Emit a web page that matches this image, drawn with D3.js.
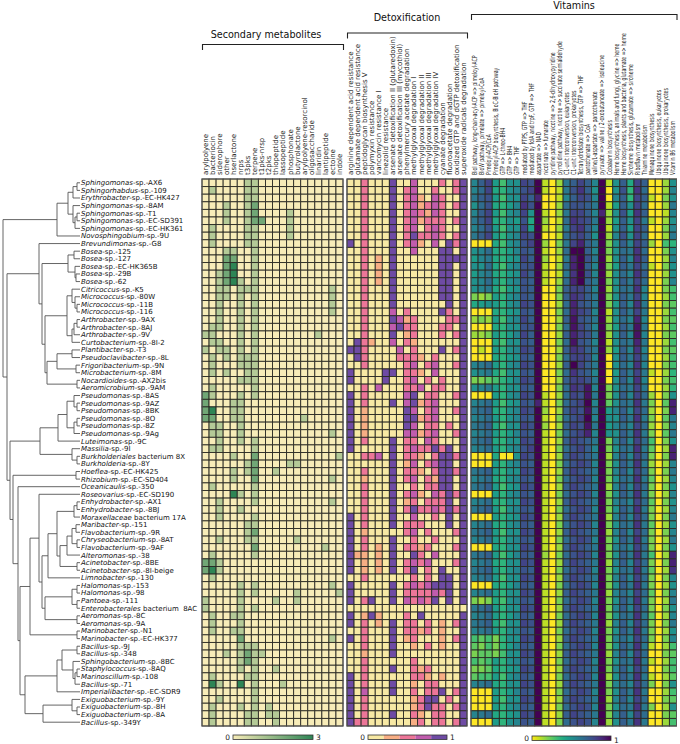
<!DOCTYPE html>
<html><head><meta charset="utf-8">
<script src="https://cdn.jsdelivr.net/npm/d3@7"></script>
<style>body{margin:0;background:#fff}svg{display:block}text{font-family:"DejaVu Sans",sans-serif}</style>
</head><body><svg id="c" width="680" height="744"></svg>
<script>
const rowLabels = ["Sphingomonas-sp.-AX6","Sphingorhabdus-sp.-109","Erythrobacter-sp.-EC-HK427","Sphingomonas-sp.-8AM","Sphingomonas-sp.-T1","Sphingomonas-sp.-EC-SD391","Sphingomonas-sp.-EC-HK361","Novosphingobium-sp.-9U","Brevundimonas-sp.-G8","Bosea-sp.-125","Bosea-sp.-127","Bosea-sp.-EC-HK365B","Bosea-sp.-29B","Bosea-sp.-62","Citricoccus-sp.-K5","Micrococcus-sp.-80W","Micrococcus-sp.-11B","Micrococcus-sp.-116","Arthrobacter-sp.-9AX","Arthrobacter-sp.-8AJ","Arthrobacter-sp.-9V","Curtobacterium-sp.-8I-2","Plantibacter-sp.-T3","Pseudoclavibacter-sp.-8L","Frigoribacterium-sp.-9N","Microbacterium-sp.-8M","Nocardioides-sp.-AX2bis","Aeromicrobium-sp.-9AM","Pseudomonas-sp.-8AS","Pseudomonas-sp.-9AZ","Pseudomonas-sp.-8BK","Pseudomonas-sp.-8O","Pseudomonas-sp.-8Z","Pseudomonas-sp.-9Ag","Luteimonas-sp.-9C","Massilia-sp.-9I","Burkholderiales bacterium 8X","Burkholderia-sp.-8Y","Hoeflea-sp.-EC-HK425","Rhizobium-sp.-EC-SD404","Oceanicaulis-sp.-350","Roseovarius-sp.-EC-SD190","Enhydrobacter-sp.-AX1","Enhydrobacter-sp.-8BJ","Moraxellaceae bacterium 17A","Maribacter-sp.-151","Flavobacterium-sp.-9R","Chryseobacterium-sp.-8AT","Flavobacterium-sp.-9AF","Alteromonas-sp.-38","Acinetobacter-sp.-8BE","Acinetobacter-sp.-8I-beige","Limnobacter-sp.-130","Halomonas-sp.-153","Halomonas-sp.-98","Pantoea-sp.-111","Enterobacterales bacterium  8AC","Aeromonas-sp.-8C","Aeromonas-sp.-9A","Marinobacter-sp.-N1","Marinobacter-sp.-EC-HK377","Bacillus-sp.-9J","Bacillus-sp.-348","Sphingobacterium-sp.-8BC","Staphylococcus-sp.-8AQ","Marinoscillum-sp.-108","Bacillus-sp.-71","Imperialibacter-sp.-EC-SDR9","Exiguobacterium-sp.-9Y","Exiguobacterium-sp.-8H","Exiguobacterium-sp.-8A","Bacillus-sp.-349Y"];

const secCategories = ["arylpolyene","bacteriocin","siderophore","other","hserlactone","nrps","t3pks","terpene","t1pks-nrsp","t2pks","thiopeptide","lassopeptide","phosphonate","butyrolactone","arylpolyene-resorcinol","oligosaccharide","linaridin","lantipeptide","ectoine","indole"];
const detoxCategories = ["arginine dependent acid resistance","glutamate dependent acid resistance","peptidoglycan biosynthesis V","polymyxin resistance","vancomycin resistance I","linezolid resistance","arsenate detoxification II (glutaredoxin)","arsenate detoxification III (mycothiol)","phenylmercury acetate degradation","methylglyoxal degradation I","methylglyoxal degradation II","methylglyoxal degradation III","methylglyoxal degradation IV","cyanate degradation","fluoroacetate degradation","oxidized GTP and dGTP detoxification","superoxide radicals degradation"];
const vitCategories = ["BioI pathway, long-chain-acyl-ACP => pimeloyl-ACP","BioW pathway, pimelate => pimeloyl-CoA","Pimeloyl-ACP/CoA","Pimeloyl-ACP biosynthesis, BioC-BioH pathway","GTP => L-threo-BH4","GTP => BH4","GTP => THF","mediated by PTPS, GTP => THF","mediated by folA and trpF, GTP => THF","aspartate => NAD","nicotinate => fumarate","pyridine pathway, nicotine => 2,6-dihydroxypyridine","pyrrolidine pathway, nicotine => succinate semialdehyde","C1-unit interconversion, eukaryotes","C1-unit interconversion, prokaryotes","Tetrahydrofolate biosynthesis, GTP => THF","pantothenate => CoA","valine/L-aspartate => pantothenate","pyruvate => valine / 2-oxobutanoate => isoleucine","Cobalamin biosynthesis","Heme biosynthesis, animals and fungi, glycine => heme","Heme biosynthesis, plants and bacteria, glutamate => heme","Siroheme biosynthesis, glutamate => siroheme","Riboflavin metabolism","Thiamine metabolism","Menaquinone biosynthesis","Ubiquinone biosynthesis, eukaryotes","Ubiquinone biosynthesis, prokaryotes","Vitamin B6 metabolism"];

const secValues = [
[0,0,0,0,0,0,1,1,0,0,0,0,0,0,0,0,0,0,0,0],[0,1,0,0,0,0,1,1,0,0,0,0,0,0,0,0,0,0,0,0],[0,0,0,0,0,0,1,1,0,0,0,0,0,0,0,0,0,0,0,0],
[0,0,0,1,0,0,1,2,0,0,0,0,0,0,0,0,0,0,0,0],[0,0,0,1,0,0,1,2,0,0,0,0,1,0,0,0,0,0,0,0],[0,0,0,1,0,0,1,2,2,0,0,0,1,0,0,0,0,0,0,0],
[0,1,0,0,0,0,1,1,0,0,0,0,1,0,0,0,0,0,0,0],[0,1,0,0,0,0,1,1,0,0,0,0,1,0,0,0,0,0,0,0],[0,1,0,0,0,0,1,1,0,0,0,0,0,0,0,0,0,0,0,0],
[0,0,0,1,1,0,0,1,0,0,0,0,0,0,0,0,0,0,0,0],[0,0,0,2,2,0,0,1,0,0,0,0,0,0,0,0,0,0,0,0],[0,0,0,2,3,0,0,1,0,0,0,0,0,0,0,0,0,0,0,0],
[0,0,1,2,3,0,0,1,0,0,0,0,0,0,0,0,0,0,0,0],[0,0,1,2,3,1,0,1,0,0,0,0,0,0,0,0,0,0,0,0],[0,0,1,1,0,1,1,1,0,0,0,0,0,0,0,0,0,0,1,0],
[0,0,1,1,0,1,0,1,0,0,0,0,0,0,0,0,0,0,1,0],[0,0,1,0,0,1,0,1,0,0,0,0,0,0,0,0,0,0,1,0],[0,0,1,0,0,1,0,1,0,0,0,0,0,0,0,0,0,0,1,0],
[0,0,1,0,0,1,0,1,0,0,0,0,0,0,0,0,0,0,0,0],[0,1,1,0,0,1,0,1,0,0,0,0,0,0,0,0,0,0,0,0],[1,1,0,0,0,1,0,1,0,0,0,0,0,0,0,0,1,0,0,0],
[0,1,1,0,0,1,0,1,0,0,0,0,0,0,0,0,0,0,0,0],[1,0,1,1,0,1,0,1,0,0,0,0,0,0,0,0,0,0,0,0],[0,1,0,1,0,1,1,1,0,0,0,0,0,0,0,0,0,0,0,0],
[0,1,0,0,0,1,1,1,0,0,0,0,0,0,0,0,0,0,0,0],[0,1,0,1,0,0,1,1,0,0,0,0,0,0,0,0,0,0,0,0],[0,0,0,0,0,1,1,1,0,0,0,0,0,0,0,0,0,0,0,0],
[0,1,0,0,0,0,0,1,0,0,0,0,0,0,0,0,0,0,0,0],[2,1,0,0,0,1,0,1,0,0,0,0,0,0,0,0,0,0,0,0],[2,0,0,0,1,1,0,0,0,0,0,0,0,0,0,0,0,0,0,0],
[2,3,0,0,1,1,0,0,0,0,0,0,0,0,0,0,0,0,0,0],[2,2,0,0,1,1,0,0,0,0,0,0,0,0,1,0,0,0,0,0],[0,1,1,0,0,1,0,0,0,0,0,0,0,0,0,0,0,0,0,0],
[0,1,1,0,0,1,0,0,0,0,0,0,0,0,0,0,0,0,1,0],[0,0,1,0,0,1,0,1,0,0,0,0,0,0,0,0,0,0,0,0],[0,1,1,0,0,0,0,1,0,0,0,0,0,0,0,0,0,0,0,0],
[0,0,0,0,1,0,0,2,0,0,0,0,0,0,0,0,0,0,0,1],[0,0,0,0,0,0,1,2,0,0,0,0,1,1,0,0,0,0,0,0],[0,0,0,0,1,0,1,2,0,0,1,0,0,0,0,0,0,0,0,0],
[0,0,0,0,1,0,0,2,0,0,0,0,0,0,0,0,0,0,1,0],[0,1,0,0,0,0,0,1,0,0,0,0,0,0,0,0,0,0,0,0],[0,0,0,0,3,1,0,1,0,0,0,0,0,0,0,0,0,0,0,0],
[0,0,1,0,0,0,0,1,0,0,0,0,0,0,0,0,0,0,1,0],[0,0,1,0,0,1,0,0,0,0,0,0,0,0,0,0,0,0,0,0],[0,0,1,0,0,0,0,1,0,0,0,0,0,0,0,0,0,0,0,0],
[0,0,0,0,0,0,1,1,0,0,0,0,0,0,0,0,0,0,0,0],[0,0,0,0,0,0,1,2,0,0,0,0,0,0,0,0,0,0,0,0],[0,0,1,0,0,0,1,1,0,0,0,0,0,1,0,0,0,0,0,0],
[0,0,0,0,0,0,0,2,0,0,0,0,0,0,0,0,0,1,0,0],[0,1,0,0,0,0,0,1,0,0,0,0,0,0,0,0,0,0,0,0],[2,2,1,0,0,0,0,0,0,0,0,0,0,0,0,0,0,0,0,0],
[2,3,1,0,0,0,0,0,0,0,0,0,0,0,0,0,0,0,0,0],[0,1,0,0,0,0,0,0,0,0,0,0,0,0,0,0,0,0,0,0],[0,0,0,0,0,1,0,1,0,0,0,0,0,0,0,0,0,0,1,0],
[0,0,0,0,0,1,0,1,0,0,0,0,0,1,0,0,0,0,0,1],[1,0,0,0,0,1,0,0,0,0,1,0,0,1,0,0,0,0,0,0],[1,0,0,0,0,1,0,1,0,0,0,0,0,0,0,0,0,0,0,0],
[0,1,0,0,1,1,0,0,0,0,0,0,0,0,0,0,0,0,0,0],[0,1,0,0,0,1,0,0,0,0,0,0,0,0,0,0,0,0,0,0],[0,1,0,0,1,1,0,0,0,0,0,0,0,0,0,0,0,0,0,0],
[0,0,0,0,0,2,0,0,0,0,0,0,0,0,0,0,0,0,1,0],[0,0,0,0,0,1,1,1,0,0,0,0,0,0,0,0,0,0,0,0],[0,0,0,1,0,1,2,1,1,0,0,0,0,0,0,0,0,0,0,0],
[0,0,0,0,0,1,2,1,0,0,0,0,0,0,0,0,0,0,0,0],[0,0,0,0,0,1,0,1,0,0,1,0,0,0,0,0,0,0,0,0],[0,1,0,0,0,0,1,1,0,0,0,0,0,0,0,0,0,0,0,0],
[0,3,1,0,0,3,0,1,0,0,0,1,0,0,0,0,0,0,0,0],[0,0,0,0,0,0,0,1,0,0,0,0,0,0,0,0,0,0,0,0],[0,0,1,0,0,0,0,1,0,0,0,0,0,0,0,0,0,0,0,0],
[0,1,0,0,0,1,0,1,0,1,0,0,0,0,0,0,0,0,0,0],[0,1,0,0,0,0,1,1,0,1,1,0,0,0,0,0,0,0,0,0],[0,1,0,0,0,0,1,1,0,0,1,0,0,0,0,0,0,0,0,0]
];

const detoxValues = [
[0,0,.5,0,0,0,1,0,0,.75,0,0,0,.5,0,.5,1],[0,0,.5,0,0,0,1,0,.5,.75,0,0,.5,0,0,.5,1],[0,0,.5,0,0,0,1,0,.5,.75,.25,0,.75,.5,0,0,1],
[0,0,.5,0,0,0,1,0,.5,.75,.25,.5,.75,.5,0,.5,1],[0,0,.5,0,0,0,1,0,.5,.75,.5,.25,.75,.5,0,0,1],[0,0,.5,0,0,0,1,0,.5,.75,.25,.5,.5,.5,0,.5,1],
[0,0,.5,0,0,0,1,0,.5,.75,0,.5,.75,.5,0,0,1],[0,0,.5,0,0,0,1,0,.5,1,.5,.5,.75,.5,0,.5,1],[1,0,.5,0,0,0,1,0,.5,.75,.25,0,.75,0,1,.5,1],
[0,0,.5,0,0,0,1,0,0,.75,0,0,0,1,1,0,1],[0,0,.5,0,.25,0,1,0,0,0,0,0,0,1,1,1,1],[0,0,.5,0,.25,0,1,0,0,0,0,0,0,1,1,0,1],
[0,0,.5,0,.25,0,1,0,0,0,0,0,0,1,1,0,1],[0,0,.5,0,.25,0,1,0,0,0,0,0,0,1,1,0,1],[0,0,.5,0,0,0,1,0,0,0,0,0,0,1,1,0,1],
[0,0,.5,0,0,0,1,0,0,0,0,0,0,1,1,0,1],[0,0,.5,0,0,0,1,0,0,0,0,0,0,0,1,0,1],[0,0,.5,0,0,0,.75,0,.5,0,0,0,0,1,.5,0,1],
[0,0,.5,0,0,0,1,.75,.25,.5,0,0,0,0,.5,.5,1],[0,0,.5,0,0,0,.75,1,.5,.5,0,0,0,.5,.5,0,1],[0,0,.5,0,0,0,1,0,.25,.5,0,0,0,.5,0,.5,1],
[0,1,.5,.25,0,0,.75,0,.5,.25,0,0,0,0,0,0,1],[1,1,.5,0,0,0,0,.75,0,.5,0,0,0,1,0,.5,1],[0,1,.5,0,0,0,0,.5,.5,.5,.25,0,.5,0,0,0,1],
[0,0,.5,0,0,0,0,0,.5,.75,0,.5,.75,0,0,.5,1],[1,0,0,0,0,1,1,0,.5,.5,.25,0,.75,0,0,0,1],[1,0,0,0,0,1,0,0,.5,.75,0,.5,0,.5,0,0,1],
[0,0,.5,0,.75,0,0,0,.5,.5,.75,0,.5,.5,0,0,1],[1,0,.5,0,0,0,0,0,.75,1,0,.5,.5,0,0,.5,1],[1,0,.5,0,0,0,1,0,.75,1,.25,.5,.75,0,0,0,1],
[1,0,.25,0,0,0,0,0,1,.75,0,.5,.75,0,0,.5,1],[1,0,.25,0,0,0,0,0,1,1,.25,.5,.75,0,0,0,1],[1,0,.25,0,0,0,0,0,1,.75,0,.5,.5,0,.5,0,1],
[1,0,.25,0,0,0,0,0,.75,.75,.25,.5,.75,0,0,.5,1],[1,0,.5,0,0,0,1,0,.5,.5,0,.75,.5,0,0,0,1],[1,0,0,0,0,0,1,0,.5,.75,.5,.5,1,.5,1,0,1],
[0,0,.5,.5,.75,0,1,0,.5,.5,.25,0,.5,1,1,.5,1],[0,0,0,0,0,0,1,0,.25,.75,0,.5,.75,1,1,0,1],[0,0,.5,0,0,0,1,0,.5,.5,.25,0,.5,1,1,.5,1],
[0,0,.25,0,0,0,1,0,.5,.75,0,.5,.25,1,1,0,1],[0,0,.5,0,0,0,1,0,0,.5,0,.5,.5,1,1,0,1],[0,0,.5,0,0,0,1,0,.5,.75,.25,0,.75,.5,1,.5,1],
[0,0,.5,0,0,0,1,0,.25,.5,0,.5,.5,.5,1,0,1],[0,0,.5,0,0,0,1,0,.5,1,.5,.5,.75,.5,1,.5,1],[1,0,.5,0,0,0,1,0,0,.75,0,0,.5,0,1,0,1],
[1,0,.5,0,0,0,1,0,.5,.5,.5,0,0,0,1,0,1],[1,0,.25,0,0,0,0,0,.5,.75,0,.5,0,0,0,.5,1],[1,0,.5,0,0,0,1,0,0,.5,0,0,.5,0,0,0,1],
[1,0,.5,0,.25,0,1,0,.5,.5,.25,.5,0,0,0,.5,1],[1,.25,.25,0,.25,0,1,0,0,1,.5,0,.75,0,0,0,1],[1,0,.25,0,.25,0,1,0,.5,.75,.5,.75,0,0,0,.5,1],
[1,0,.25,0,.25,0,1,0,.5,1,0,.5,0,1,0,0,1],[0,0,.5,0,0,0,0,0,0,.5,0,.5,0,1,1,0,1],[1,0,0,0,0,0,1,0,.5,.75,.5,.75,1,1,1,0,1],
[1,0,0,0,0,0,1,0,.5,.5,.5,.5,.75,.5,1,0,1],[1,0,.5,1,0,0,1,0,.75,.5,.75,.5,1,0,1,0,1],[0,0,0,0,0,0,0,0,0,0,0,0,0,0,0,0,0],
[1,0,.25,1,.25,0,0,0,.5,0,1,0,0,0,0,0,1],[1,0,.5,0,.25,0,1,0,.5,.5,0,.5,0,.25,0,.5,1],[0,0,.5,0,0,0,1,0,.5,.5,.25,.5,0,.25,0,0,1],
[1,0,.5,0,0,0,1,0,.25,.5,0,0,0,.25,0,.5,1],[0,0,.5,0,0,0,1,0,0,.25,0,.5,0,.25,0,0,1],[0,0,.25,0,0,0,1,0,0,0,0,0,0,0,0,0,1],
[0,0,.5,0,0,0,0,0,0,.5,0,0,0,0,0,0,1],[0,0,.5,0,0,0,1,0,0,.5,.25,.5,0,0,0,0,1],[1,0,.5,0,0,0,0,0,0,.5,.5,.25,0,.25,0,0,1],
[1,0,.5,0,0,0,1,0,0,.25,0,.5,.5,0,0,0,1],[1,0,.75,0,0,0,1,0,0,.5,0,.5,.5,1,0,.5,1],[1,0,.5,0,0,0,0,0,0,.25,.5,1,1,0,.5,0,1],
[1,0,.5,0,0,0,0,0,0,.25,.5,1,.5,.5,0,.5,1],[1,0,.5,0,0,0,1,0,0,.5,.25,0,.5,.5,0,0,1],[1,.5,.5,0,0,0,0,0,0,.25,.5,0,.5,.5,0,.5,1]
];

const vitValues = [
[.55,.7,.8,.45,.3,.5,.5,.8,.75,1,.1,0,.15,.6,.7,.8,.7,.55,1,.1,.5,.7,.4,.8,.7,0,0,.15,.5],
[.55,.65,.8,.4,.35,.5,.55,.75,.8,1,.1,0,.1,.6,.75,.85,.7,.5,1,0,.5,.75,.35,.85,.65,0,0,.15,.55],
[.6,.7,.75,.45,.3,.5,.5,.8,.7,.9,0,0,.1,.55,.7,.8,.75,.55,1,0,.55,.7,.35,.8,.7,.1,0,.2,.5],
[.5,.65,.75,.4,.35,.45,.55,.85,.75,1,0,0,.15,.65,.75,.75,.7,.6,1,.1,.45,.7,.5,.8,.65,0,0,.15,.6],
[.55,.7,.8,.45,.3,.5,.55,.8,.5,1,.1,0,.15,.6,.8,.8,.7,.55,.9,.15,.5,.75,.45,.85,.7,0,0,.1,.55],
[.6,.7,.8,.4,.35,.5,.45,.75,.4,1,.15,0,.1,.65,.85,.8,.75,.6,1,.15,.45,.7,.5,.8,.6,.1,0,.15,.5],
[.55,.65,.75,.45,.3,.5,.5,.8,.45,1,.1,0,.15,.6,.8,.85,.7,.55,1,.1,.5,.7,.45,.8,.7,0,0,.2,.55],
[.6,.7,.8,.45,.35,.5,.55,.8,.75,1,0,0,.1,.65,.75,.8,.7,.5,1,.15,.55,.75,.5,.8,.65,0,0,.15,.6],
[0,0,0,.4,.3,.5,.55,.75,.8,1,.15,0,.2,.6,.8,.9,.7,.6,1,.2,.5,.7,.55,.8,.7,.15,0,.3,.35],
[.5,.55,.65,.4,.35,.45,.55,.75,.7,1,.1,0,.15,.65,1,1,.7,.55,1,.2,.5,.65,.6,.85,.65,0,0,.2,.5],
[.45,.55,.6,.4,.35,.45,.5,.8,.7,1,.15,0,.1,.6,.9,1,.75,.6,1,.15,.5,.7,.55,.85,.7,0,0,.15,.55],
[.5,.5,.65,.4,.3,.5,.55,.75,.75,1,.1,0,.15,.65,.9,1,.7,.55,1,.2,.45,.7,.6,.8,.65,.1,0,.2,.5],
[.45,.55,.6,.4,.35,.45,.5,.8,.7,1,.1,0,.1,.6,.85,1,.75,.55,1,.15,.5,.65,.55,.85,.7,0,0,.15,.5],
[.5,.55,.65,.45,.35,.5,.55,.75,.7,1,.1,0,.15,.65,.9,1,.7,.6,1,.2,.5,.7,.6,.8,.65,0,0,.2,.55],
[.5,.55,.6,.4,.3,.45,.5,.75,.7,1,0,0,.2,.7,.8,.8,.7,.55,1,.15,.5,.65,.6,.85,.55,0,0,.2,.3],
[.2,.15,.2,.45,.35,.5,.55,.75,.7,1,0,0,.2,.7,.85,.8,.7,.6,1,.2,.5,.7,.6,.8,.55,0,0,.15,.3],
[.4,.45,.5,.45,.35,.5,.55,.8,.75,1,0,0,.15,.65,.9,.75,.7,.6,1,.2,.45,.7,.55,.85,.6,0,0,.2,.25],
[0,0,0,.4,.35,.45,.5,.75,.7,1,0,0,.2,.65,.9,.8,.75,.55,1,.1,.5,.7,.6,.8,.6,0,0,.15,.3],
[.15,.2,.15,.45,.3,.5,.55,.8,.7,1,0,0,.15,.7,.95,.75,.7,.6,1,.15,.5,.65,.55,.9,.55,0,0,.2,.25],
[0,0,0,.4,.35,.5,.5,.75,.75,1,0,0,.2,.65,.95,.8,.7,.55,1,.2,.45,.7,.6,.95,.6,0,0,.15,.3],
[.15,.15,.2,.45,.35,.45,.55,.8,.7,1,0,0,.15,.7,.9,.8,.75,.6,1,.15,.5,.7,.55,.95,.55,0,0,.2,.25],
[0,0,0,.4,.3,.5,.5,.75,.7,1,0,0,.2,.65,.95,.75,.7,.55,1,.1,.5,.65,.6,.9,.6,0,0,.15,.3],
[0,.1,0,.45,.35,.5,.55,.8,.75,1,0,0,.15,.7,.85,.8,.7,.6,1,.15,.45,.7,.55,.85,.55,0,0,.2,.25],
[0,0,0,.4,.35,.45,.5,.75,.7,1,0,0,.2,.65,.8,.8,.75,.55,1,0,.5,.7,.6,.8,.6,0,0,.15,.3],
[.55,.6,.65,.45,.35,.5,.55,.8,.75,1,0,0,.15,.7,1,.8,.7,.6,1,0,.5,.65,.55,.85,.55,0,0,.2,.3],
[.5,.55,.6,.4,.3,.5,.5,.75,.7,1,0,0,.2,.65,.85,.75,.7,.55,1,0,.45,.7,.6,.8,.6,.1,0,.15,.35],
[.2,.2,.25,.3,.35,.45,.55,.8,.75,1,0,0,.15,.7,.8,.8,.75,.6,1,0,.5,.7,.55,.85,.55,0,0,.2,.3],
[.5,.55,.6,.45,.35,.5,.5,.75,.7,1,0,0,.2,.65,.85,.8,.95,.55,1,.2,.5,.65,.6,.8,.6,0,0,.15,.35],
[0,0,0,.45,.35,.5,.55,.8,.75,1,.1,0,.15,.65,.8,.75,.95,.6,1,.2,.5,.7,.55,.8,.65,.15,0,.2,.5],
[.55,.6,.65,.45,.3,.45,.5,.75,.7,.9,.1,0,.2,.65,.75,.8,1,.55,1,.25,.5,.65,.6,.85,.6,.2,0,.25,.9],
[.6,.65,.7,.4,.35,.5,.55,.8,.75,1,.15,0,.15,.7,.8,.75,.95,.6,1,.45,.55,.7,.55,.8,.65,.15,0,.2,.9],
[.55,.6,.65,.45,.35,.5,.55,.75,.7,1,.1,0,.2,.65,.75,.8,1,.55,1,.5,.5,.7,.6,.85,.6,.2,0,.25,.6],
[.6,.65,.7,.4,.3,.5,.5,.8,.75,1,.15,0,.15,.7,.8,.75,.95,.6,1,.45,.55,.65,.55,.8,.65,.15,0,.2,.55],
[.55,.6,.65,.45,.35,.45,.55,.75,.7,1,.1,0,.2,.65,.75,.8,.9,.55,1,.5,.5,.7,.6,.85,.6,.2,0,.25,.6],
[.6,.65,.7,.4,.35,.5,.5,.8,.75,1,.1,0,.15,.7,.8,.75,.7,.6,1,.2,.55,.7,.55,.8,.65,.3,0,.2,.5],
[.55,.6,.65,.45,.35,.5,.55,.75,.8,1,.1,0,.2,.65,.75,.8,.7,.55,1,.2,.5,.65,.6,.85,.6,.25,0,.15,.9],
[0,0,0,.4,0,0,.5,.8,.75,1,.1,0,.15,.7,.8,.75,.7,.6,1,.15,.55,.7,.55,.8,.65,.2,0,.2,.9],
[0,0,0,.45,.35,.5,.55,.75,.7,1,.1,0,.2,.65,.75,.8,.75,.55,1,.2,.5,.7,.6,.85,.6,.15,0,.15,.55],
[.6,.65,.7,.45,.35,.5,.5,.8,.75,1,.1,0,.15,.7,.8,.75,.7,.6,1,.2,.55,.7,.55,.8,.65,.2,0,.2,.6],
[.55,.6,.65,.4,.35,.5,.55,.75,.7,1,.1,0,.2,.65,.75,.8,.75,.55,1,.2,.5,.65,.6,.85,.6,.25,0,.15,.55],
[.6,.65,.7,.45,.3,.45,.5,.8,.75,1,.1,0,.15,.7,.8,.75,.7,.6,1,.15,.55,.7,.55,.8,.65,.2,0,.2,.5],
[0,0,0,.45,.35,.5,.55,.75,.7,1,.1,0,.2,.65,.75,.8,.75,.55,1,.2,.5,.7,.6,.85,.6,.2,0,.15,.55],
[.55,.6,.65,.4,.35,.5,.5,.8,.75,1,.1,0,.15,.7,.8,.75,.7,.6,1,.2,.55,.65,.55,.8,.65,.25,0,.2,.5],
[.6,.65,.7,.45,.3,.5,.55,.75,.7,1,.1,0,.2,.65,.75,.8,.75,.55,1,.2,.5,.7,.6,.85,.6,.2,0,.15,.55],
[0,0,0,.45,.35,.45,.5,.8,.75,1,.1,0,.15,.7,.8,.75,.7,.6,1,.15,.55,.7,.55,.8,.65,.2,0,.2,.6],
[.55,.6,.65,.4,.35,.5,.55,.75,.7,1,.1,0,.2,.65,.75,.8,.75,.55,1,.2,.5,.65,.6,.85,.6,.25,0,.15,.5],
[.6,.65,.7,.45,.3,.5,.5,.8,.75,1,.1,0,.15,.7,.8,.75,.7,.6,1,.15,.55,.7,.55,.8,.65,.2,0,.2,.55],
[.55,.6,.65,.45,.35,.5,.55,.75,.7,1,.1,0,.2,.65,.75,.8,.75,.55,1,.2,.5,.7,.6,.85,.6,.2,0,.15,.6],
[0,0,0,.4,.35,.5,.5,.8,.75,1,.1,0,.15,.7,.8,.75,.7,.6,1,.2,.55,.65,.55,.8,.65,.2,0,.2,.5],
[.6,.65,.7,.45,.3,.45,.55,.75,.7,1,.15,0,.2,.65,.75,.8,.75,.55,1,.2,.5,.7,.6,.85,.6,.3,0,.15,.9],
[.55,.6,.65,.4,.35,.5,.5,.8,.75,1,.1,0,.15,.7,.8,.75,.7,.6,1,.15,.55,.7,.55,.8,.65,.2,0,.2,.9],
[.6,.65,.7,.45,.35,.5,.55,.75,.7,1,.1,0,.2,.65,.75,.8,.75,.55,1,.2,.5,.65,.6,.85,.6,.25,0,.15,.85],
[.55,.6,.65,.45,.3,.5,.5,.8,.75,1,.1,0,.15,.7,.8,.75,.7,.6,1,.2,.55,.7,.55,.8,.65,.2,0,.2,.55],
[0,0,0,.4,.35,.45,.55,.75,.7,1,.1,0,.2,.65,.75,.8,.75,.55,1,.2,.5,.7,.6,.85,.6,.2,0,.15,.5],
[.55,.6,.65,.45,.35,.5,.5,.8,.75,1,.1,0,.15,.7,.8,.75,.7,.6,1,.15,.55,.65,.55,.8,.65,.25,0,.2,.55],
[.2,.15,.2,.4,.3,.5,.55,.75,.7,1,.1,0,.2,.65,.75,.8,.75,.55,1,.2,.5,.7,.6,.85,.6,.2,0,.15,.6],
[.6,.65,.7,.45,.35,.5,.5,.8,.75,1,.1,0,.15,.7,.8,.75,.7,.6,1,.2,.55,.7,.55,.8,.65,.2,0,.2,.5],
[.55,.6,.65,.45,.35,.45,.55,.75,.7,1,.1,0,.2,.65,.75,.8,.75,.55,1,.2,.5,.65,.6,.85,.6,.25,0,.15,.55],
[.6,.65,.7,.4,.3,.5,.5,.8,.75,1,.1,0,.15,.7,.8,.75,.7,.6,1,.15,.55,.7,.55,.8,.65,.2,0,.2,.6],
[.55,.6,.65,.45,.35,.5,.55,.75,.7,1,.1,0,.2,.65,.75,.8,.75,.55,1,.2,.5,.7,.6,.85,.6,.2,0,.15,.5],
[.3,.25,.3,.2,.35,.5,.5,.8,.75,1,.1,0,.15,.7,.8,.75,.7,.6,1,.2,.55,.65,.55,.8,.65,.2,0,.2,.55],
[.25,.2,.3,.2,.35,.45,.55,.75,.7,1,.1,0,.2,.65,.75,.8,.75,.55,1,.2,.5,.7,.6,.85,.6,.1,0,.15,.3],
[.2,.25,.25,.2,.3,.5,.5,.8,.75,1,.1,0,.15,.7,.8,.75,.7,.6,1,.15,.55,.7,.55,.8,.65,0,0,.2,.25],
[.3,.25,.3,.45,.35,.5,.55,.75,.7,1,.1,0,.2,.65,.75,.8,.75,.55,1,.2,.5,.65,.6,.85,.6,.1,0,.15,.3],
[.2,.2,.25,.4,.35,.45,.5,.8,.75,1,.1,0,.15,.7,.8,.75,.7,.6,1,.2,.55,.7,.55,.8,.65,0,0,.2,.3],
[.25,.3,.3,.45,.3,.5,.55,.75,.7,1,.1,0,.2,.65,.75,.8,.75,.55,1,.15,.5,.7,.6,.85,.6,.1,0,.15,.25],
[.55,.6,.65,.4,.35,.5,.5,.8,.75,1,.1,0,.15,.7,.8,.75,.7,.6,1,.2,.55,.65,.55,.8,.65,.2,0,.2,.5],
[0,0,0,.45,.35,.45,.55,.75,.7,1,.1,0,.2,.65,.75,.8,.75,.55,1,.2,.5,.7,.6,.85,.6,0,0,.15,.3],
[0,0,0,.45,.3,.5,.5,.8,.75,1,.1,0,.15,.7,.8,.75,.7,.6,1,.15,.55,.7,.55,.8,.65,0,0,.2,.25],
[0,0,0,.45,.35,.5,.55,.75,.7,1,.1,0,.2,.65,.75,.8,.75,.55,1,.2,.5,.65,.6,.85,.6,.2,0,.15,.5],
[.55,.6,.65,.4,.35,.45,.5,.8,.75,1,.1,0,.15,.7,.8,.75,.7,.6,1,.2,.55,.7,.55,.8,.65,0,0,.2,.25],
[0,0,0,.45,.35,.5,.55,.75,.7,1,.1,0,.2,.65,.75,.8,.75,.55,1,.15,.5,.7,.6,.85,.6,0,0,.15,.3]
];

// dendrogram: [merge distance, left, right]; leaves are row indices
const tree = [77,
  [23,[12,[7,[3,0,1],2],[7,3,[5,[3,4,5],6]]],7],
  [73,
    [41,8,[38,[12,[6,9,10],[5,11,[4,12,13]]],[35,[13,[8,14,[5,15,[3,16,17]]],[8,[6,[3,18,19],20],21]],[33,[23,[8,22,23],[4,24,25]],[3,26,27]]]]],
    [70,
      [40,[22,[13,[6,28,[3,29,30]],[6,[3,31,32],33]],34],[8,35,[3,36,37]]],
      [67,[4,38,39],
        [62,40,
          [60,
            [50,[41,41,[38,[32,[23,[6,[3,42,43],44],[20,[13,[8,[4,45,46],[3,47,48]],49],[3,50,51]]],52],[35,[8,[3,53,54],[3,55,56]],[3,57,58]]]],[3,59,60]],
            [55,[23,[18,[3,61,62],[7,63,[5,[3,64,65],66]]],67],[37,[8,68,[3,69,70]],71]]
          ]
        ]
      ]
    ]
  ]
];

const secTicks = ["0","3"], detoxTicks = ["0","1"], vitTicks = ["0","1"];
const detoxPalette = ["#f7e9a4","#f7ae84","#ec7698","#c05cad","#6e4ba4"];

const svg = d3.select("#c");
const y = d3.scaleBand().domain(d3.range(rowLabels.length)).range([179, 726]);
const secColor = d3.scaleLinear().domain([0,3]).range(["#f7ecb8","#2e8555"]);
const detoxColor = d3.scaleLinear().domain([0,.25,.5,.75,1]).range(detoxPalette);
const vitColor = v => d3.interpolateViridis(1 - v);

const panels = [
  {cats: secCategories, vals: secValues, x: d3.scaleBand().domain(d3.range(secCategories.length)).range([202,343]), color: secColor, cond: 1,
   title: "Secondary metabolites", tx: 266, ty: 38, by: 44.5, bt: 50},
  {cats: detoxCategories, vals: detoxValues, x: d3.scaleBand().domain(d3.range(detoxCategories.length)).range([347,467]), color: detoxColor, cond: 1,
   title: "Detoxification", tx: 407, ty: 21, by: 33, bt: 38.5},
  {cats: vitCategories, vals: vitValues, x: d3.scaleBand().domain(d3.range(vitCategories.length)).range([471,676.5]), color: vitColor, cond: 0.66,
   title: "Vitamins", tx: 574, ty: 9, by: 14.5, bt: 20}
];

panels.forEach(p => {
  const g = svg.append("g");
  const cells = [];
  p.vals.forEach((row, i) => row.forEach((v, j) => cells.push({i, j, v})));
  g.selectAll("rect").data(cells).join("rect")
    .attr("x", d => p.x(d.j)).attr("y", d => y(d.i))
    .attr("width", p.x.bandwidth()).attr("height", y.bandwidth())
    .attr("fill", d => p.color(d.v))
    .attr("stroke", "#2a2a24").attr("stroke-width", 0.9);
  g.append("rect").attr("x", p.x.range()[0]).attr("y", 179).attr("width", p.x.range()[1]-p.x.range()[0]).attr("height", 547)
    .attr("fill", "none").attr("stroke", "#555").attr("stroke-width", 1);
  g.selectAll("text.col").data(p.cats).join("text").attr("class","col")
    .attr("transform", (d, j) => `translate(${p.x(j) + p.x.bandwidth()/2 + 2.4},175) rotate(-90) scale(${p.cond},1)`)
    .attr("font-size", 7).attr("fill", "#1a1a1a").text(d => d);
  const x0 = p.x.range()[0] + 0.5, x1 = p.x.range()[1] + 0.5;
  g.append("path").attr("d", `M${x0},${p.bt}V${p.by}H${x1}V${p.bt}`).attr("fill","none").attr("stroke","#222").attr("stroke-width",1.1);
  g.append("text").attr("x", p.tx).attr("y", p.ty).attr("text-anchor","middle").attr("font-size", 9.6).attr("fill","#111").text(p.title);
});

// row labels
const lab = svg.append("g");
rowLabels.forEach((s, i) => {
  const m = s.match(/^([A-Za-z]+)(.*)$/);
  const t = lab.append("text").attr("x", 81).attr("y", y(i) + y.bandwidth()/2).attr("dy", "0.35em")
    .attr("font-size", 7).attr("fill", "#111").style("white-space", "pre");
  t.append("tspan").attr("font-style", "italic").text(m[1]);
  t.append("tspan").text(m[2]);
});

// dendrogram
const xD = d3.scaleLinear().domain([0, 77]).range([80, 3]);
const root = d3.hierarchy(tree, d => Array.isArray(d) ? d.slice(1) : null);
root.eachAfter(n => {
  if (!n.children) { n.px = xD(0); n.py = y(n.data) + y.bandwidth()/2; }
  else { n.px = xD(n.data[0]); n.py = (n.children[0].py + n.children[n.children.length-1].py) / 2; }
});
const dg = svg.append("g").attr("fill","none").attr("stroke","#555").attr("stroke-width",0.9);
root.each(n => {
  if (!n.children) return;
  const a = n.children[0], b = n.children[1];
  dg.append("path").attr("d", `M${a.px},${a.py}H${n.px}V${b.py}H${b.px}`);
});

// colorbars
const defs = svg.append("defs");
function gradient(id, fn) {
  const lg = defs.append("linearGradient").attr("id", id);
  d3.range(0, 1.0001, 0.05).forEach(t => lg.append("stop").attr("offset", t).attr("stop-color", fn(t)));
}
gradient("gSec", t => secColor(t * 3));
gradient("gVit", t => vitColor(t));
const cb = svg.append("g");
function bar(x0, x1, yy, fill, ticks, ty1) {
  cb.append("rect").attr("x", x0).attr("y", yy).attr("width", x1 - x0).attr("height", 4.5).attr("fill", fill).attr("stroke","#333").attr("stroke-width",0.8);
  cb.append("text").attr("x", x0 - 3).attr("y", yy + 5).attr("text-anchor","end").attr("font-size", 7.5).attr("fill","#222").text(ticks[0]);
  cb.append("text").attr("x", x1 + 3).attr("y", ty1).attr("text-anchor","start").attr("font-size", 7.5).attr("fill","#222").text(ticks[1]);
}
bar(233, 313, 735, "url(#gSec)", secTicks, 740);
const dx = d3.scaleBand().domain(d3.range(detoxPalette.length)).range([368, 447]);
detoxPalette.forEach((c, k) => cb.append("rect").attr("x", dx(k)).attr("y", 735).attr("width", dx.bandwidth()).attr("height", 4.5).attr("fill", c));
bar(368, 447, 735, "none", detoxTicks, 740);
bar(532, 611, 736, "url(#gVit)", vitTicks, 743);
</script></body></html>
